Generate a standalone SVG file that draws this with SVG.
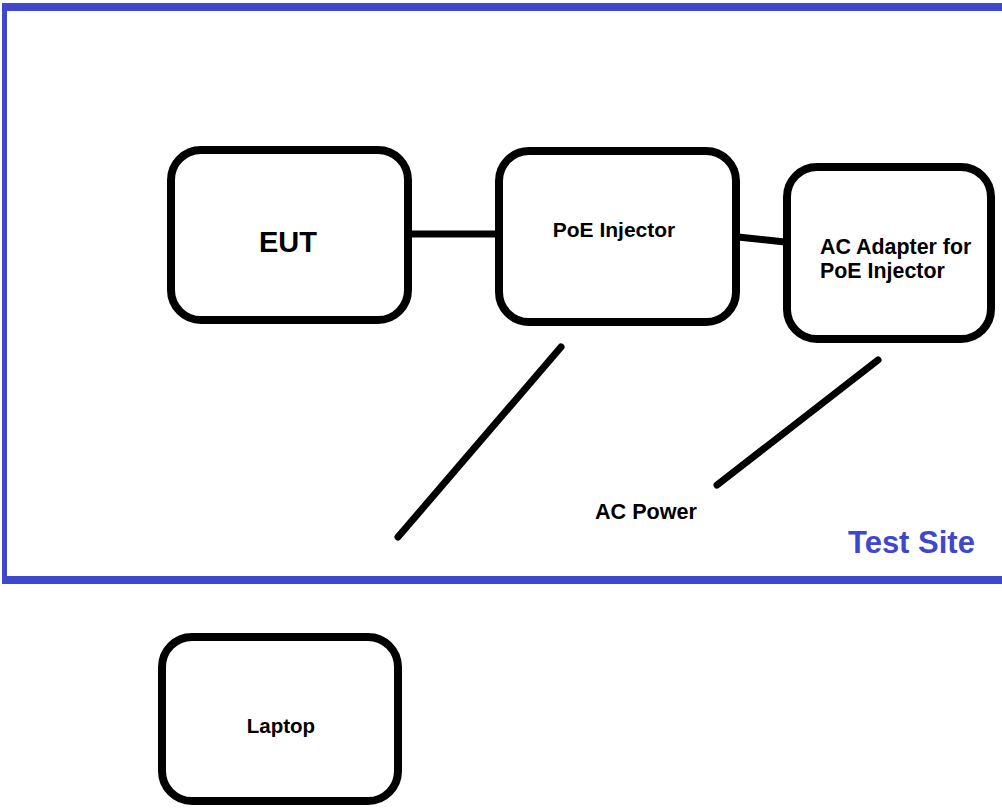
<svg xmlns="http://www.w3.org/2000/svg" width="1002" height="808" viewBox="0 0 1002 808">
  <style>
    .box { fill: #ffffff; stroke: #000000; stroke-width: 8; }
    .wire { stroke: #000000; stroke-width: 7; stroke-linecap: round; fill: none; }
    .lbl { font-family: "Liberation Sans", Arial, sans-serif; font-weight: bold; fill: #000000; }
    .site { font-family: "Liberation Sans", Arial, sans-serif; font-weight: bold; fill: #3f48cc; }
  </style>
  <rect x="0" y="0" width="1002" height="808" fill="#ffffff"/>

  <!-- Test site boundary (open on the right) -->
  <g id="test-site">
    <path d="M2 3 H1010 V584 H2 Z M7 11 V576 H1010 V11 Z" fill="#3f48cc" fill-rule="evenodd"/>
    <text class="site" x="848" y="553" font-size="31">Test Site</text>
  </g>

  <!-- Cables -->
  <g id="connectors">
    <line class="wire" x1="410" y1="234" x2="497" y2="234" stroke-linecap="butt"/>
    <line class="wire" x1="738" y1="237" x2="785" y2="242" stroke-linecap="butt"/>
    <line class="wire" x1="561" y1="347" x2="398" y2="537"/>
    <line class="wire" x1="878" y1="360" x2="717" y2="485"/>
  </g>

  <g id="eut">
    <rect class="box" x="171" y="150" width="237" height="170" rx="30"/>
    <text class="lbl" x="288" y="252" font-size="29" text-anchor="middle">EUT</text>
  </g>

  <g id="poe-injector">
    <rect class="box" x="499" y="151" width="237" height="171" rx="30"/>
    <text class="lbl" x="614" y="237" font-size="21" text-anchor="middle">PoE Injector</text>
  </g>

  <g id="ac-adapter">
    <rect class="box" x="787" y="167" width="204" height="172" rx="30"/>
    <text class="lbl" x="820" y="254" font-size="21.4">AC Adapter for</text>
    <text class="lbl" x="820" y="278" font-size="21.4">PoE Injector</text>
  </g>

  <g id="ac-power">
    <text class="lbl" x="595" y="519" font-size="21.6">AC Power</text>
  </g>

  <g id="laptop">
    <rect class="box" x="162" y="637" width="236" height="164" rx="30"/>
    <text class="lbl" x="281" y="733" font-size="20.5" text-anchor="middle">Laptop</text>
  </g>
</svg>
